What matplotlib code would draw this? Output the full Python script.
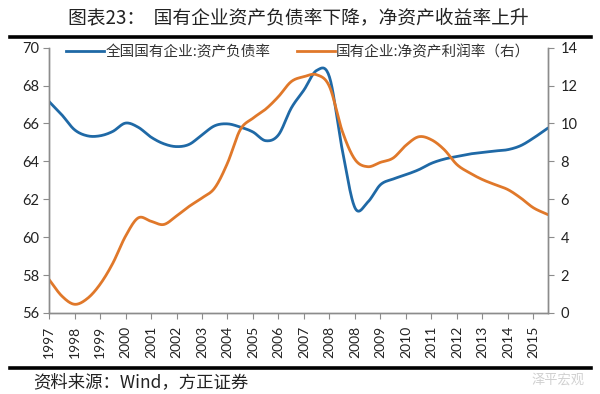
import numpy as np
import matplotlib
matplotlib.use("Agg")
import matplotlib.pyplot as plt
from matplotlib.lines import Line2D

plt.rcParams['font.family'] = ['Lato', 'Noto Sans CJK SC', 'DejaVu Sans']

# ---------------- data ----------------
year_labels = ['1997', '1998', '1999', '2000', '2001', '2002', '2003', '2004', '2005', '2006',
               '2007', '2008', '2008', '2009', '2010', '2011', '2012', '2013', '2014', '2015']
# half-step category positions (label index), last point at the right edge
x_idx = [0, 0.5, 1, 1.5, 2, 2.5, 3, 3.5, 4, 4.5, 5, 5.5, 6, 6.5, 7, 7.5, 8, 8.5, 9, 9.5,
         10, 10.5, 11, 11.5, 12, 12.5, 13, 13.5, 14, 14.5, 15, 15.5, 16, 16.5, 17, 17.5,
         18, 18.5, 19, 19.57]
debt_ratio = [67.16, 66.46, 65.67, 65.35, 65.35, 65.58, 66.02, 65.80, 65.28, 64.93,
              64.78, 64.90, 65.40, 65.88, 65.98, 65.81, 65.55, 65.09, 65.40, 66.81,
              67.77, 68.80, 68.45, 64.62, 61.55, 61.85, 62.77, 63.07, 63.30, 63.56,
              63.90, 64.12, 64.26, 64.39, 64.47, 64.55, 64.62, 64.83, 65.23, 65.76]
roe = [1.77, 0.90, 0.46, 0.76, 1.51, 2.62, 4.05, 5.02, 4.84, 4.67,
       5.12, 5.63, 6.07, 6.60, 7.91, 9.67, 10.28, 10.76, 11.42, 12.21,
       12.47, 12.57, 11.95, 9.60, 8.10, 7.72, 7.95, 8.18, 8.85, 9.30,
       9.14, 8.62, 7.83, 7.39, 7.04, 6.77, 6.51, 6.07, 5.55, 5.19]
name_debt = '全国国有企业:资产负债率'
name_roe = '国有企业:净资产利润率（右）'
title = '图表23：  国有企业资产负债率下降，净资产收益率上升'
source = '资料来源：Wind，方正证券'

BLUE = '#1F69A6'
ORANGE = '#E0782A'
GREY = '#8C8C8C'
CJK = ['Noto Sans CJK SC', 'DejaVu Sans']


def smooth(x, y, n=20):
    """Catmull-Rom rendering of a series (Excel-like smoothed line)."""
    x = np.asarray(x, float)
    y = np.asarray(y, float)
    px = np.concatenate([[2 * x[0] - x[1]], x, [2 * x[-1] - x[-2]]])
    py = np.concatenate([[2 * y[0] - y[1]], y, [2 * y[-1] - y[-2]]])
    xs, ys = [], []
    for i in range(1, len(px) - 2):
        x0, x1, x2, x3 = px[i - 1:i + 3]
        y0, y1, y2, y3 = py[i - 1:i + 3]
        m1 = (y2 - y0) / (x2 - x0) * (x2 - x1)
        m2 = (y3 - y1) / (x3 - x1) * (x2 - x1)
        t = np.linspace(0, 1, n, endpoint=False)
        h00 = 2 * t**3 - 3 * t**2 + 1
        h10 = t**3 - 2 * t**2 + t
        h01 = -2 * t**3 + 3 * t**2
        h11 = t**3 - t**2
        xs.append(x1 + t * (x2 - x1))
        ys.append(h00 * y1 + h10 * m1 + h01 * y2 + h11 * m2)
    xs.append([x[-1]])
    ys.append([y[-1]])
    return np.concatenate(xs), np.concatenate(ys)


fig = plt.figure(figsize=(6.0, 3.94), dpi=100)
ax = fig.add_axes([0.0817, 0.2056, 0.8316, 0.6734])
ax2 = ax.twinx()

sx, sy = smooth(x_idx, debt_ratio)
ax.plot(sx, sy, color=BLUE, lw=2.0, solid_capstyle='round', zorder=3)
sx2, sy2 = smooth(x_idx, roe)
ax2.plot(sx2, sy2, color=ORANGE, lw=2.0, solid_capstyle='round', zorder=2)

ax.set_xlim(0, x_idx[-1])
ax.set_ylim(56, 70)
ax2.set_ylim(0, 14)
ax.set_yticks(np.arange(56, 71, 2))
ax2.set_yticks(np.arange(0, 15, 2))
ax.set_xticks(range(len(year_labels)))
ax.set_xticklabels(year_labels, rotation=90, fontsize=10, color='#222222')
for a in (ax, ax2):
    a.tick_params(axis='y', labelsize=10.5, colors=GREY, labelcolor='#222222', length=4, width=0.8)
    a.spines['top'].set_visible(False)
    for s in ('left', 'right', 'bottom'):
        a.spines[s].set_color(GREY)
        a.spines[s].set_linewidth(1.0)
ax.tick_params(axis='x', colors=GREY, labelcolor='#222222', length=4, width=0.8, pad=5)
ax.tick_params(axis='y', pad=3)
ax2.tick_params(axis='y', pad=5)

handles = [Line2D([], [], color=BLUE, lw=2.0), Line2D([], [], color=ORANGE, lw=2.0)]
leg = fig.legend(handles, [name_debt, name_roe], ncol=2, frameon=False,
                 loc='center', bbox_to_anchor=(0.497, 0.868), prop={'family': CJK, 'size': 10.5},
                 handlelength=2.6, handletextpad=0.1, columnspacing=1.8)
for t in leg.get_texts():
    t.set_color('#333333')

fig.text(0.497, 0.955, title, ha='center', va='center', fontsize=13.5, family=CJK, color='#222222')
fig.add_artist(Line2D([0.017, 0.985], [0.906, 0.906], color='black', lw=2.6, transform=fig.transFigure))
fig.add_artist(Line2D([0.017, 0.985], [0.066, 0.066], color='black', lw=2.6, transform=fig.transFigure))
fig.text(0.055, 0.030, source, ha='left', va='center', fontsize=12.5, family=CJK,
         color='#222222', style='italic')
fig.text(0.975, 0.035, '泽平宏观', ha='right', va='center', fontsize=9.5, family=CJK, color='#D0D0D0')

fig.savefig('out.png', dpi=100)
